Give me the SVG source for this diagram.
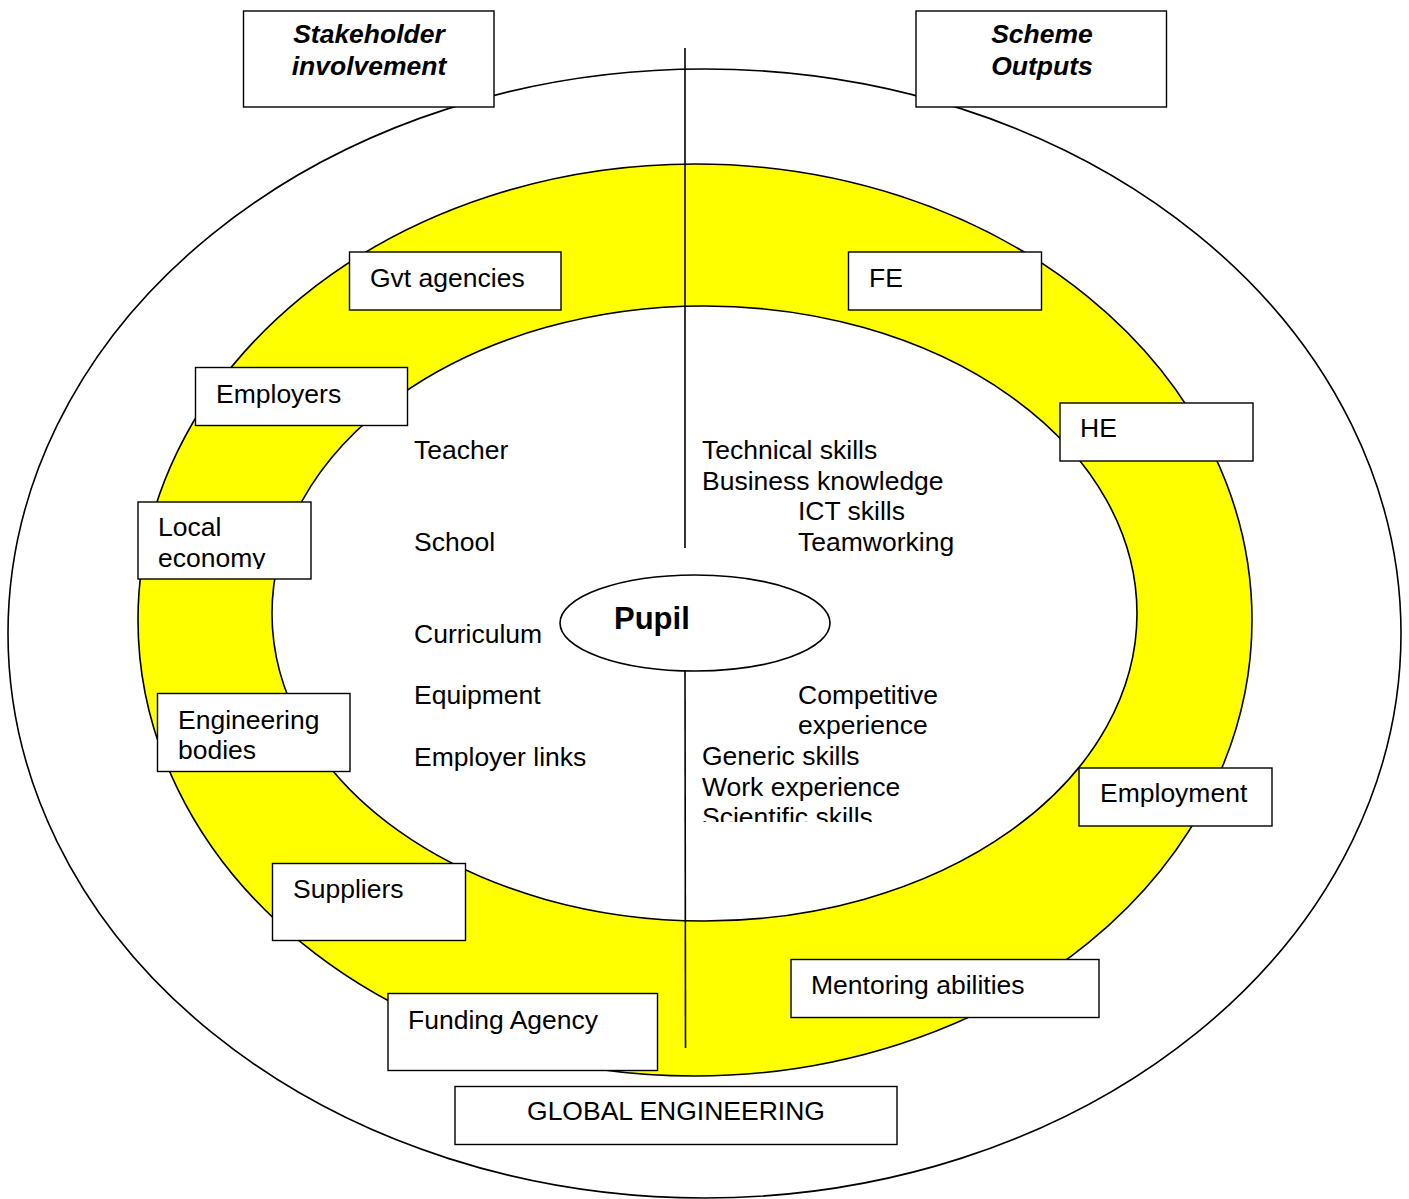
<svg xmlns="http://www.w3.org/2000/svg" width="1409" height="1199" viewBox="0 0 1409 1199">
<style>
.ring{stroke:#000;stroke-width:1.6}
.box{fill:#fff;stroke:#000;stroke-width:1.4}
.t{font-family:"Liberation Sans",Arial,sans-serif;font-size:26.5px;fill:#000}
.h{font-family:"Liberation Sans",Arial,sans-serif;font-size:26.5px;font-weight:bold;font-style:italic;fill:#000;text-anchor:middle}
.p{font-family:"Liberation Sans",Arial,sans-serif;font-size:31px;font-weight:bold;fill:#000}
.line{stroke:#000;stroke-width:1.6;fill:none}
</style>
<defs>
<clipPath id="clipLocal"><rect x="138" y="502" width="173" height="67"/></clipPath>
<clipPath id="clipSci"><rect x="690" y="800" width="300" height="22"/></clipPath>
</defs>
<rect width="1409" height="1199" fill="#fff"/>
<g id="rings">
<ellipse class="ring" cx="704.5" cy="633.5" rx="696.5" ry="564.5" fill="#fff"/>
<ellipse class="ring" cx="695" cy="620" rx="557" ry="456" fill="#ffff00"/>
<ellipse class="ring" cx="704.5" cy="613.5" rx="432.5" ry="307.5" fill="#fff"/>
</g>
<g id="connectors">
<line class="line" x1="685" y1="48" x2="685" y2="548"/>
<line class="line" x1="685" y1="662" x2="685.5" y2="1048"/>
</g>
<g id="stakeholder-involvement">
<rect class="box" x="243.5" y="11" width="250.5" height="96"/>
<text class="h" x="369" y="43">Stakeholder</text>
<text class="h" x="369" y="75">involvement</text>
</g>
<g id="scheme-outputs">
<rect class="box" x="916" y="11" width="250.5" height="96"/>
<text class="h" x="1042" y="43">Scheme</text>
<text class="h" x="1042" y="75">Outputs</text>
</g>
<g id="gvt-agencies">
<rect class="box" x="349.5" y="252" width="211.5" height="58"/>
<text class="t" x="370" y="287">Gvt agencies</text>
</g>
<g id="fe">
<rect class="box" x="848.5" y="252" width="193" height="58"/>
<text class="t" x="869" y="287">FE</text>
</g>
<g id="employers">
<rect class="box" x="195.5" y="367.5" width="212" height="58"/>
<text class="t" x="216" y="403">Employers</text>
</g>
<g id="he">
<rect class="box" x="1060" y="403" width="193" height="58"/>
<text class="t" x="1080" y="437">HE</text>
</g>
<g id="local-economy">
<rect class="box" x="138" y="502" width="173" height="77"/>
<g clip-path="url(#clipLocal)">
<text class="t" x="158" y="536">Local</text>
<text class="t" x="158" y="567">economy</text>
</g>
</g>
<g id="engineering-bodies">
<rect class="box" x="157.5" y="693.5" width="192.5" height="78"/>
<text class="t" x="178" y="729">Engineering</text>
<text class="t" x="178" y="759">bodies</text>
</g>
<g id="employment">
<rect class="box" x="1079" y="768" width="193" height="58"/>
<text class="t" x="1100" y="802">Employment</text>
</g>
<g id="suppliers">
<rect class="box" x="272.5" y="863.5" width="193" height="77"/>
<text class="t" x="293" y="898">Suppliers</text>
</g>
<g id="mentoring-abilities">
<rect class="box" x="791" y="959.5" width="308" height="58"/>
<text class="t" x="811" y="994">Mentoring abilities</text>
</g>
<g id="funding-agency">
<rect class="box" x="388" y="993.5" width="269.5" height="77"/>
<text class="t" x="408" y="1029">Funding Agency</text>
</g>
<g id="global-engineering">
<rect class="box" x="455" y="1086.5" width="442" height="58"/>
<text class="t" x="676" y="1120" text-anchor="middle">GLOBAL ENGINEERING</text>
</g>
<g id="school-factors">
<text class="t" x="414" y="459">Teacher</text>
<text class="t" x="414" y="551">School</text>
<text class="t" x="414" y="643">Curriculum</text>
<text class="t" x="414" y="704">Equipment</text>
<text class="t" x="414" y="766">Employer links</text>
</g>
<g id="skills-top">
<text class="t" x="702" y="459">Technical skills</text>
<text class="t" x="702" y="490">Business knowledge</text>
<text class="t" x="798" y="520">ICT skills</text>
<text class="t" x="798" y="551">Teamworking</text>
</g>
<g id="skills-bottom">
<text class="t" x="798" y="704">Competitive</text>
<text class="t" x="798" y="734">experience</text>
<text class="t" x="702" y="765">Generic skills</text>
<text class="t" x="702" y="796">Work experience</text>
<g clip-path="url(#clipSci)"><text class="t" x="702" y="826">Scientific skills</text></g>
</g>
<g id="pupil">
<ellipse cx="695" cy="623" rx="135" ry="48" fill="#fff" stroke="#000" stroke-width="1.6"/>
<text class="p" x="614" y="629">Pupil</text>
</g>
</svg>
